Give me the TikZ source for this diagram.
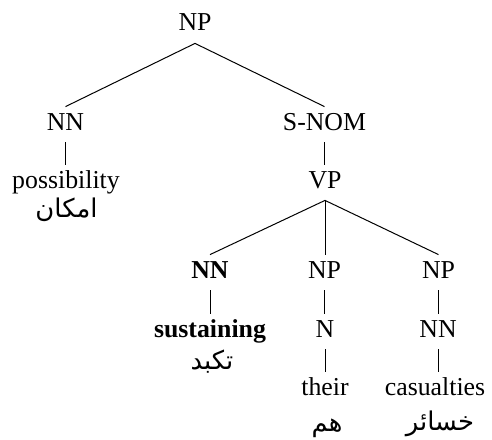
\documentclass[tikz,border=0pt]{standalone}
\usepackage{fontspec}
\setmainfont{Liberation Serif}
\newfontfamily\arabicfont[Script=Arabic]{DejaVu Sans}
\TeXXeTstate=1
\begin{document}
\begin{tikzpicture}[x=0.5pt,y=-0.5pt,
  lbl/.style={anchor=base, inner sep=0pt, text height=11.5pt, text depth=6pt, font=\fontsize{12.9}{15}\selectfont},
  ar/.style={anchor=base, inner sep=0pt, font=\arabicfont\fontsize{12.9}{15}\selectfont},
  br/.style={draw=black, line width=0.5pt}]
\useasboundingbox (0,0) rectangle (492,439);
\node[lbl] (np) at (195,31) {NP};
\node[lbl] (nn1) at (65.5,130) {NN};
\node[lbl] (snom) at (324.5,130) {S-NOM};
\node[lbl] (poss) at (66,188) {possibility};
\node[ar] (ar1) at (66.5,217) {\beginR امكان\endR};
\node[lbl] (vp) at (325,188) {VP};
\node[lbl] (nnb) at (210,278) {\bfseries NN};
\node[lbl] (np2) at (324.5,278) {NP};
\node[lbl] (np3) at (438.5,278) {NP};
\node[lbl] (sus) at (210,337) {\bfseries sustaining};
\node[lbl] (n) at (325,337) {N};
\node[lbl] (nn3) at (438,337) {NN};
\node[ar] (ar2) at (212,369) {\beginR تكبد\endR};
\node[lbl] (their) at (325,395) {their};
\node[lbl] (cas) at (435,395) {casualties};
\node[ar] (ar3) at (327,431) {\beginR هم\endR};
\node[ar] (ar4) at (440,430) {\beginR خسائر\endR};
\draw[br] (np.south) -- (nn1.north);
\draw[br] (np.south) -- (snom.north);
\draw[br] (nn1.south) -- (nn1.south |- poss.north);
\draw[br] (snom.south) -- (snom.south |- vp.north);
\draw[br] (vp.south) -- (nnb.north);
\draw[br] (vp.south) -- (vp.south |- np2.north);
\draw[br] (vp.south) -- (np3.north);
\draw[br] (nnb.south) -- (nnb.south |- sus.north);
\draw[br] (np2.south) -- (np2.south |- n.north);
\draw[br] (np3.south) -- (np3.south |- nn3.north);
\draw[br] (n.south) -- (n.south |- their.north);
\draw[br] (nn3.south) -- (nn3.south |- cas.north);
\end{tikzpicture}
\end{document}
